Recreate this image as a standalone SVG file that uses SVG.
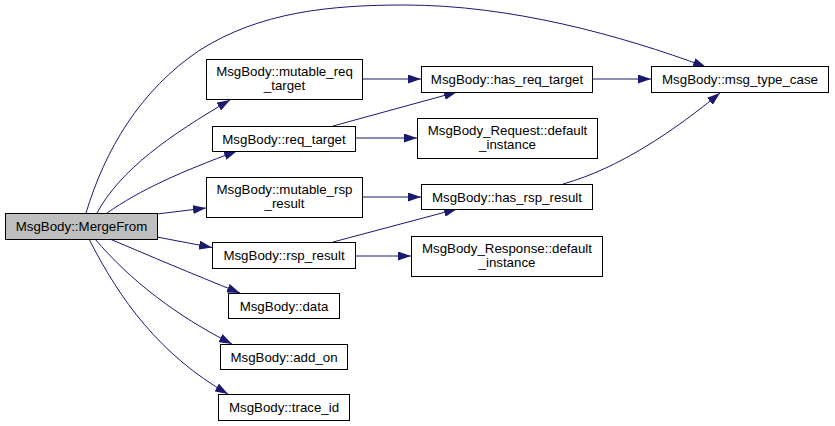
<svg xmlns="http://www.w3.org/2000/svg" width="835" height="426" viewBox="0 0 835 426">
<style>
.n rect{fill:#fff;stroke:#000;stroke-width:1}
.n.cur rect{fill:#bfbfbf}
.n text{font-family:"Liberation Sans",Arial,sans-serif;font-size:13.3px;text-anchor:middle;fill:#000}
.e path{fill:none;stroke:#191970;stroke-width:1;marker-end:url(#ah)}
</style>
<defs>
<marker id="ah" viewBox="0 0 13 9" refX="13" refY="4.5" markerWidth="13" markerHeight="9" markerUnits="userSpaceOnUse" orient="auto">
<path d="M0,0 L13,4.5 L0,9 z" fill="#191970"/>
</marker>
</defs>
<rect width="835" height="426" fill="#fff"/>
<g id="edges" class="e">
<path d="M86,213 C105,150 140,90 200,50 C260,12 330,5 405,5 C510,5 620,35 706,67"/>
<path d="M97,213 C120,170 170,135 230,100"/>
<path d="M107,213 C140,190 180,172 237,151"/>
<path d="M157,214 L206,208"/>
<path d="M157,237 L212,247.5"/>
<path d="M110,239 C150,256 190,273 240,293"/>
<path d="M95,239 C130,280 175,315 232,344"/>
<path d="M89,239 C120,300 160,355 228,394"/>
<path d="M362,79 L421,79"/>
<path d="M333,126 L457,92"/>
<path d="M355,138 L417,138"/>
<path d="M592,79 L651,79"/>
<path d="M362,197 L421,197"/>
<path d="M333,242 L457,209"/>
<path d="M355,256 L411,256"/>
<path d="M563,184 C620,168 675,130 720,93"/>
</g>
<g id="MergeFrom" class="n cur"><rect x="5.5" y="213.5" width="152" height="26"/><text x="81.5" y="231">MsgBody::MergeFrom</text></g>
<g id="mutable_req_target" class="n"><rect x="206.5" y="59.5" width="156" height="40"/><text x="284.5" y="76">MsgBody::mutable_req</text><text x="284.5" y="90">_target</text></g>
<g id="req_target" class="n"><rect x="212.5" y="126.5" width="143" height="25"/><text x="284" y="143.5">MsgBody::req_target</text></g>
<g id="mutable_rsp_result" class="n"><rect x="206.5" y="177.5" width="156" height="40"/><text x="284.5" y="194">MsgBody::mutable_rsp</text><text x="284.5" y="208">_result</text></g>
<g id="rsp_result" class="n"><rect x="212.5" y="242.5" width="143" height="26"/><text x="284" y="260">MsgBody::rsp_result</text></g>
<g id="data" class="n"><rect x="228.5" y="293.5" width="111" height="25"/><text x="284" y="310.5">MsgBody::data</text></g>
<g id="add_on" class="n"><rect x="220.5" y="344.5" width="127" height="25"/><text x="284" y="361.5">MsgBody::add_on</text></g>
<g id="trace_id" class="n"><rect x="218.5" y="394.5" width="131" height="26"/><text x="284" y="412">MsgBody::trace_id</text></g>
<g id="has_req_target" class="n"><rect x="421.5" y="66.5" width="171" height="26"/><text x="507" y="84">MsgBody::has_req_target</text></g>
<g id="msg_type_case" class="n"><rect x="651.5" y="66.5" width="177" height="26"/><text x="740" y="84">MsgBody::msg_type_case</text></g>
<g id="req_default_instance" class="n"><rect x="417.5" y="118.5" width="180" height="40"/><text x="507.5" y="135">MsgBody_Request::default</text><text x="507.5" y="149">_instance</text></g>
<g id="has_rsp_result" class="n"><rect x="421.5" y="184.5" width="171" height="25"/><text x="507" y="201.5">MsgBody::has_rsp_result</text></g>
<g id="rsp_default_instance" class="n"><rect x="411.5" y="236.5" width="191" height="40"/><text x="507" y="253">MsgBody_Response::default</text><text x="507" y="267">_instance</text></g>
</svg>
